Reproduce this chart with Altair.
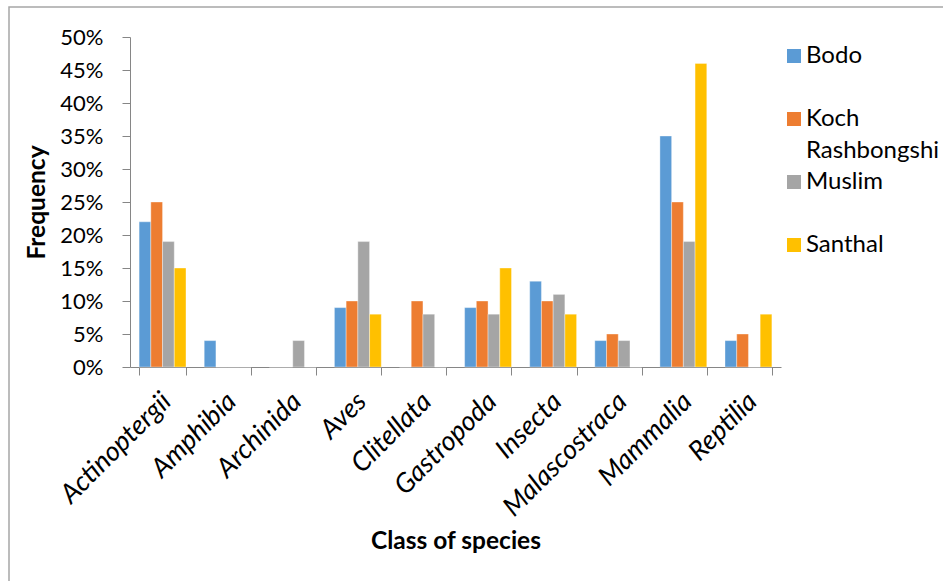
import altair as alt
import pandas as pd

categories = ["Actinoptergii", "Amphibia", "Archinida", "Aves", "Clitellata",
              "Gastropoda", "Insecta", "Malascostraca", "Mammalia", "Reptilia"]
groups = ["Bodo", "Koch Rashbongshi", "Muslim", "Santhal"]
bodo = [22, 4, 0, 9, 0, 9, 13, 4, 35, 4]
koch = [25, 0, 0, 10, 10, 10, 10, 5, 25, 5]
muslim = [19, 0, 4, 19, 8, 8, 11, 4, 19, 0]
santhal = [15, 0, 0, 8, 0, 15, 8, 0, 46, 8]
colors = ["#5B9BD5", "#ED7D31", "#A5A5A5", "#FFC000"]
y_ticks = [0, 5, 10, 15, 20, 25, 30, 35, 40, 45, 50]

rows = []
for g, vals in zip(groups, [bodo, koch, muslim, santhal]):
    for c, v in zip(categories, vals):
        rows.append({"cat": c, "group": g, "value": v})
df = pd.DataFrame(rows)

FONT = "Lato"

bars = alt.Chart(df).mark_bar(stroke="white", strokeWidth=0.6, strokeOpacity=0.6).encode(
    x=alt.X("cat:N", sort=categories,
            scale=alt.Scale(paddingInner=0.28, paddingOuter=0.14),
            axis=alt.Axis(title="Class of species", labelAngle=-45, labelAlign="right",
                          labelBaseline="middle", labelFontStyle="italic",
                          labelFontSize=27, labelPadding=22, labelOffset=4,
                          tickBand="extent",
                          tickSize=8, tickColor="#868686", domainColor="#868686",
                          labelColor="black", titleFontSize=24.5, titleFontWeight="bold",
                          titleColor="black", titleX=325.5, titleY=174,
                          titleAlign="center", titleBaseline="middle", grid=False)),
    xOffset=alt.XOffset("group:N", sort=groups,
                        scale=alt.Scale(paddingInner=0, paddingOuter=0)),
    y=alt.Y("value:Q", scale=alt.Scale(domain=[0, 50], nice=False),
            axis=alt.Axis(title="Frequency", values=y_ticks,
                          labelExpr="datum.value + '%'", labelFontSize=22,
                          labelPadding=19, tickSize=8, tickColor="#868686",
                          domainColor="#868686", labelColor="black",
                          titleFontSize=24.5, titleFontWeight="bold", titleColor="black",
                          titleX=-93, titleY=165, titleAngle=-90, titleAlign="center",
                          titleBaseline="middle", grid=False)),
    color=alt.Color("group:N", sort=groups,
                    scale=alt.Scale(domain=groups, range=colors),
                    legend=alt.Legend(title=None, orient="none", legendX=652, legendY=7,
                                      symbolType="square", symbolSize=196,
                                      symbolStrokeWidth=0, labelFontSize=24,
                                      labelColor="black", rowPadding=7,
                                      labelLimit=300, labelOffset=0,
                                      labelExpr="datum.label == 'Koch Rashbongshi' ? ['Koch', 'Rashbongshi'] : [datum.label, ' ']")),
)

border = alt.Chart(alt.Data(values=[{"b": 1}])).mark_rect(
    fill=None, stroke="#A6A6A6", strokeWidth=1.5
).encode(
    x=alt.value(-121), x2=alt.value(830), y=alt.value(-30), y2=alt.value(560)
)

chart = alt.layer(border, bars).properties(
    width=651, height=330,
    autosize=alt.AutoSizeParams(type="none"),
    padding={"left": 130, "top": 37, "right": 162, "bottom": 214},
).configure(font=FONT, style={"guide-label": {"lineHeight": 32}}).configure_view(stroke=None)

chart.save("out.html", embed_options={"renderer": "svg", "actions": False})
